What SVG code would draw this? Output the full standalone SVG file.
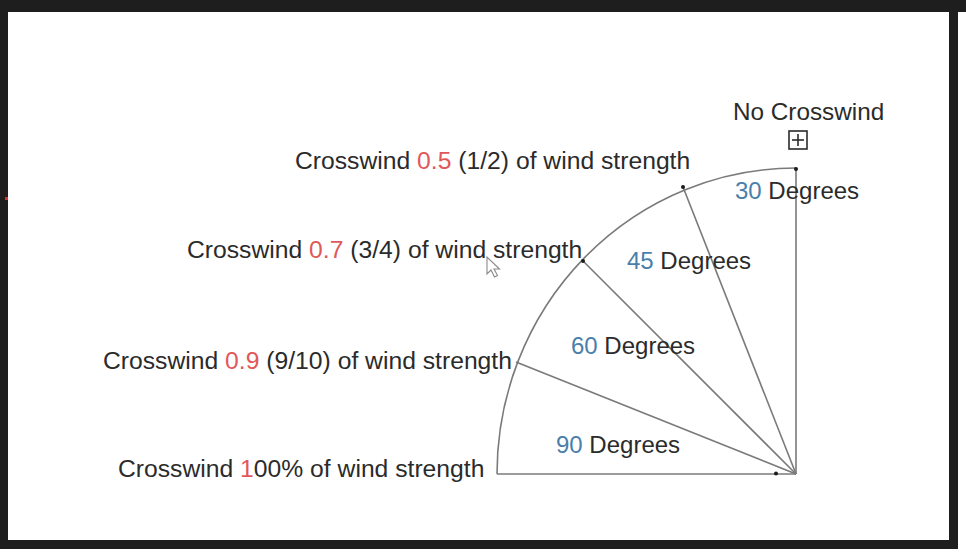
<svg xmlns="http://www.w3.org/2000/svg" width="966" height="553" viewBox="0 0 966 553">
<style>
  text { font-family: "Liberation Sans", Arial, Helvetica, sans-serif; font-size: 24px; fill: #2b2b2b; }
  .cw { font-size: 24.7px; }
  .red { fill: #e0585a; }
  .blue { fill: #4a7fab; }
  .ln { stroke: #7a7a7a; stroke-width: 1.6; fill: none; }
  .dot { fill: #1a1a1a; }
</style>
<rect x="0" y="0" width="966" height="553" fill="#ffffff"/>
<!-- frame -->
<rect x="3.5" y="6.5" width="950" height="538" fill="none" stroke="#1e1e1e" stroke-width="9"/>
<rect x="0" y="0" width="966" height="12" fill="#1e1e1e"/>
<rect x="5" y="197" width="3" height="3" fill="#e03030"/>

<g id="connectors">
  <path class="ln" d="M 497 474 A 299 306 0 0 1 796 168"/>
  <line class="ln" x1="497" y1="474" x2="796" y2="474"/>
  <line class="ln" x1="796" y1="168" x2="796" y2="474"/>
  <line class="ln" x1="683" y1="187" x2="796" y2="474"/>
  <line class="ln" x1="583" y1="261" x2="796" y2="474"/>
  <line class="ln" x1="516" y1="362" x2="796" y2="474"/>
  <circle class="dot" cx="796" cy="169" r="2"/>
  <circle class="dot" cx="683" cy="187" r="2"/>
  <circle class="dot" cx="583" cy="261" r="2"/>
  <circle class="dot" cx="776" cy="473.5" r="2"/>
</g>

<g id="node-no-crosswind">
  <text x="733" y="120" style="font-size:24.3px">No Crosswind</text>
  <rect x="789" y="131" width="18" height="18" fill="none" stroke="#2b2b2b" stroke-width="1.6"/>
  <line x1="798" y1="134" x2="798" y2="146" stroke="#2b2b2b" stroke-width="1.6"/>
  <line x1="792" y1="140" x2="804" y2="140" stroke="#2b2b2b" stroke-width="1.6"/>
</g>

<g id="node-cw05">
  <text class="cw" x="295" y="169">Crosswind <tspan class="red">0.5</tspan> (1/2) of wind strength</text>
</g>
<g id="node-cw07">
  <text class="cw" x="187" y="258">Crosswind <tspan class="red">0.7</tspan> (3/4) of wind strength</text>
</g>
<g id="node-cw09">
  <text class="cw" x="103" y="369">Crosswind <tspan class="red">0.9</tspan> (9/10) of wind strength</text>
</g>
<g id="node-cw100">
  <text class="cw" x="118" y="477">Crosswind <tspan class="red">1</tspan>00% of wind strength</text>
</g>

<g id="node-30">
  <text x="735" y="199"><tspan class="blue">30</tspan> Degrees</text>
</g>
<g id="node-45">
  <text x="627" y="269"><tspan class="blue">45</tspan> Degrees</text>
</g>
<g id="node-60">
  <text x="571" y="354"><tspan class="blue">60</tspan> Degrees</text>
</g>
<g id="node-90">
  <text x="556" y="453"><tspan class="blue">90</tspan> Degrees</text>
</g>

<!-- mouse cursor -->
<path d="M 487 257 L 487 274 L 491 270 L 494.5 277 L 497.5 275.5 L 494 269 L 499.5 269 Z" fill="#ffffff" stroke="#8a8a8a" stroke-width="1.1"/>
</svg>
